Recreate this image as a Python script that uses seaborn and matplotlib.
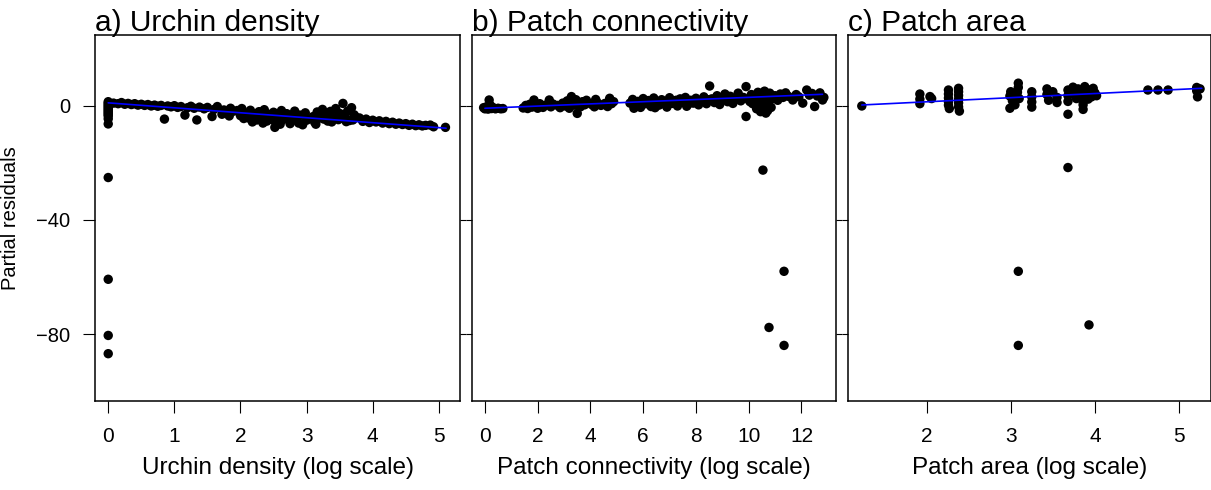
import matplotlib
matplotlib.use("Agg")
import matplotlib.pyplot as plt
import seaborn as sns
import pandas as pd

# ---------------- data ----------------
# a) Urchin density (log scale) vs partial residuals
urchin_x = [0, 0, 0, 0, 0, 0, 0, 0, 0, 0, 0, 0, 0, 0, 0, 0, 0,
            0.08, 0.15, 0.2, 0.25, 0.3, 0.35, 0.4, 0.45, 0.5, 0.55, 0.6, 0.65, 0.7, 0.75, 0.8, 0.85,
            0.9, 0.95, 1.0, 1.05, 1.1, 1.16, 1.2, 1.25, 1.3, 1.34, 1.38, 1.45, 1.5, 1.57, 1.6, 1.65,
            1.72, 1.75, 1.83, 1.85, 1.9,
            1.95, 2.0, 2.02, 2.08, 2.12, 2.15, 2.2, 2.25, 2.28, 2.32, 2.36, 2.4, 2.42, 2.46, 2.5, 2.52,
            2.55, 2.58, 2.62, 2.65, 2.7, 2.75, 2.78, 2.82, 2.86, 2.9, 2.94, 2.98, 3.02, 3.1, 3.12, 3.16,
            3.2, 3.24, 3.28, 3.32, 3.36, 3.4, 3.44, 3.48, 3.5, 3.55, 3.58, 3.62, 3.65, 3.68, 3.72, 3.74,
            2.05, 2.18, 2.34, 2.48, 2.6, 2.72, 2.88, 3.0, 3.14, 3.26, 3.38, 3.52, 3.6, 3.7,
            3.8, 3.85, 3.9, 3.95, 4.0, 4.05, 4.1, 4.15, 4.2, 4.25, 4.3, 4.35, 4.4, 4.45, 4.5, 4.55,
            4.6, 4.65, 4.7, 4.75, 4.8, 4.87, 4.92, 5.1]
urchin_y = [1.5, 1.0, 0.5, 0.0, -0.5, -1.0, -1.5, -2.0, -2.5, -3.0, -3.5, -4.5, -6.3, -25.1, -60.8, -80.5, -86.9,
            1.0, 0.8, 1.2, 0.6, 0.9, 0.5, 0.8, 0.3, 0.6, 0.2, 0.5, 0.0, 0.3, -0.1, 0.2, -4.6,
            0.0, -0.3, 0.1, -0.5, -0.2, -3.2, -0.6, -0.1, -0.8, -4.9, -0.4, -1.0, -0.5, -3.7, -1.2, -0.2,
            -2.9, -1.4, -3.5, -0.8, -1.8,
            -1.6, -3.4, -0.9, -2.6, -4.2, -1.5, -3.1, -4.9, -2.0, -3.8, -1.3, -5.3, -2.9, -4.1, -2.2, -7.5,
            -5.8, -3.4, -1.6, -4.7, -2.7, -6.2, -3.9, -1.8, -5.2, -3.2, -6.6, -2.4, -4.6, -3.7, -5.6, -2.1,
            -4.2, -1.2, -3.3, -5.3, -1.9, -4.0, -0.9, -4.8, -2.6, 0.9, -3.6, -1.8, -5.1, -0.6, -3.1, -3.9,
            -4.4, -5.6, -6.0, -4.8, -6.4, -4.4, -6.0, -5.0, -6.4, -4.6, -5.6, -4.2, -5.5, -4.9,
            -4.2, -5.4, -4.6, -5.8, -5.0, -5.6, -5.2, -6.0, -5.4, -6.2, -5.7, -6.4, -6.0, -6.5, -6.2, -6.8,
            -6.4, -6.9, -6.6, -7.0, -6.8, -6.7, -7.3, -7.5]
urchin_fit_x = [0.0, 5.11]
urchin_fit_y = [1.1, -7.8]

# b) Patch connectivity (log scale)
conn_x = [-0.05, 0.0, 0.05, 0.12, 0.16, 0.2, 0.25, 0.3, 0.4, 0.5, 0.6, 0.68,
          1.45, 1.55, 1.62, 1.7, 1.78, 1.86, 1.92, 2.0, 2.08, 2.2, 2.3, 2.44, 2.5, 2.58,
          2.75, 2.85, 2.95, 3.05, 3.12, 3.2, 3.28, 3.32, 3.4, 3.45, 3.5, 3.55, 3.62, 3.7, 3.78, 3.85,
          4.05, 4.15, 4.2, 4.28, 4.4, 4.55, 4.65, 4.73, 4.8, 4.88,
          5.5, 5.6, 5.7, 5.8, 5.9, 6.0, 6.1, 6.2, 6.3, 6.4, 6.5, 6.6, 6.7, 6.8, 6.9, 7.0, 7.1, 7.2,
          7.3, 7.4, 7.5, 7.6, 7.7, 7.8, 7.9, 8.0, 8.1,
          8.2, 8.3, 8.4, 8.52, 8.6, 8.7, 8.8, 8.9, 9.0, 9.1, 9.2, 9.3, 9.4, 9.5, 9.6, 9.7, 9.8, 9.9,
          9.9, 10.0, 10.1, 10.15,
          10.25, 10.3, 10.35, 10.4, 10.45, 10.5, 10.55, 10.6, 10.62, 10.65, 10.7, 10.75, 10.8, 10.85, 10.9,
          11.0, 11.1, 11.2, 11.3, 11.4, 11.5, 11.67, 11.8, 11.9, 12.05, 12.2, 12.3, 12.4, 12.5, 12.6,
          12.7, 12.8, 12.85,
          5.65, 6.05, 6.45, 6.85, 7.25, 7.65, 8.05, 8.45, 8.85, 9.25, 9.65, 10.05, 10.42, 10.72,
          10.54, 11.34, 10.77, 11.34]
conn_y = [-0.6, -1.0, -0.3, -1.1, 2.1, 0.3, -0.9, -0.5, -1.0, -0.8, -1.0, -0.9,
          -0.7, 0.2, -0.9, 0.6, -0.4, 2.1, 0.0, -0.8, 0.8, -0.5, 0.3, 2.1, -0.3, 0.7,
          0.2, -0.6, 1.0, 0.0, 1.8, -0.8, 3.3, 1.2, 0.3, 2.2, -2.6, 1.0, -0.3, 1.5, 0.4, 2.0,
          0.5, -0.3, 2.3, 1.0, 0.2, 0.9, -0.2, 2.7, 0.8, 1.5,
          1.0, 2.3, 0.2, 1.6, -0.5, 2.6, 0.8, 1.9, -0.2, 2.8, 1.2, 0.3, 2.2, 1.5, -0.4, 2.9, 0.9, 1.8,
          0.0, 2.5, 1.3, 3.0, 0.6, 2.0, 1.0, 2.7, 0.4,
          1.8, 3.2, 0.8, 7.0, 2.5, 1.2, 3.6, 0.5, 2.8, 4.2, 1.5, 3.4, 0.9, 2.4, 4.5, 1.8, 3.0, 6.8,
          -3.7, 2.2, 4.0, 0.8,
          3.0, -1.0, 4.8, 1.6, -2.0, 3.6, 0.5, 5.2, 2.2, -2.5, 3.8, 1.0, 4.5, -0.5, 2.6,
          3.6, 2.0, 4.2, 3.0, 4.6, 3.4, 2.1, 4.0, 3.2, 1.0, 5.6, 3.8, 4.4, -0.2, 3.5,
          4.6, 2.1, 3.0,
          -0.8, 1.4, -0.6, 0.4, 2.0, -0.1, 1.6, 2.2, 1.9, 2.7, 3.2, 1.5, 0.2, -1.6,
          -22.5, -58.0, -77.7, -84.0]
conn_fit_x = [0.0, 12.8]
conn_fit_y = [-0.8, 4.1]

# c) Patch area (log scale)
area_x = [1.23,
          1.92, 1.92, 1.92, 2.04, 2.06,
          2.26, 2.26, 2.26, 2.26, 2.26, 2.27,
          2.38, 2.38, 2.38, 2.38, 2.38, 2.38, 2.39,
          2.99, 2.99, 3.0, 3.02, 3.05, 3.08, 3.09, 3.09, 3.1, 3.06,
          3.25, 3.25, 3.25, 3.25,
          3.43, 3.43, 3.45, 3.5, 3.55, 3.55,
          3.68, 3.68, 3.68, 3.68, 3.68,
          3.74, 3.76, 3.78, 3.8, 3.82, 3.84, 3.86, 3.86, 3.88, 3.9, 3.92, 3.94, 3.96, 3.98, 4.0,
          4.02, 3.86,
          4.63, 4.75, 4.87,
          5.21, 5.21, 5.22, 5.25,
          3.09, 3.93, 3.09]
area_y = [0.0,
          4.2, 2.4, 0.8, 3.3, 2.6,
          5.6, 4.2, 2.8, 1.5, 0.3, -0.9,
          6.2, 5.0, 3.7, 2.4, 1.1, -0.3, -1.8,
          3.5, -0.8, 5.0, 1.8, 0.4, 4.8, 8.0, 6.5, 2.6, 3.4,
          5.0, 3.2, 1.4, -0.4,
          6.0, 4.0, 2.0, 5.0, 3.0, 1.2,
          5.6, 3.6, 1.6, -2.9, -21.6,
          6.6, 4.5, 2.6, 6.0, 5.0, 3.4, -1.2, 1.5, 6.8, 4.2, 2.4, 5.6, 3.2, 6.2, 4.6,
          3.6, 0.4,
          5.6, 5.6, 5.6,
          6.5, 5.3, 3.2, 6.0,
          -58.0, -76.8, -84.0]
area_fit_x = [1.23, 5.27]
area_fit_y = [0.35, 6.2]

titles = ["a) Urchin density", "b) Patch connectivity", "c) Patch area"]
xlabels = ["Urchin density (log scale)", "Patch connectivity (log scale)", "Patch area (log scale)"]
xticks = [[0, 1, 2, 3, 4, 5], [0, 2, 4, 6, 8, 10, 12], [2, 3, 4, 5]]
xlims = [(-0.2, 5.32), (-0.49, 13.31), (1.066, 5.38)]
yticks = [0, -40, -80]
ylim = (-103.5, 24.9)

# ---------------- plot ----------------
sns.set_style("white")
plt.rcParams['font.family'] = ['Liberation Sans', 'DejaVu Sans']
plt.rcParams['axes.unicode_minus'] = True
plt.rcParams['text.color'] = 'black'
plt.rcParams['axes.labelcolor'] = 'black'
plt.rcParams['xtick.color'] = 'black'
plt.rcParams['ytick.color'] = 'black'

fig = plt.figure(figsize=(12.11, 4.90), dpi=100)
W, H = 1211.0, 490.0
top_px, bot_px = 35.0, 401.0
panels_px = [(95.0, 460.0), (472.0, 836.0), (848.0, 1211.0)]

datasets = [
    (urchin_x, urchin_y, urchin_fit_x, urchin_fit_y),
    (conn_x, conn_y, conn_fit_x, conn_fit_y),
    (area_x, area_y, area_fit_x, area_fit_y),
]

for i, ((l, r), (px, py, fx, fy)) in enumerate(zip(panels_px, datasets)):
    ax = fig.add_axes([l / W, 1 - bot_px / H, (r - l) / W, (bot_px - top_px) / H])
    df = pd.DataFrame({"x": px, "y": py})
    sns.scatterplot(data=df, x="x", y="y", ax=ax, color="black", s=46,
                    edgecolor="none", linewidth=0, zorder=2)
    fit = pd.DataFrame({"x": fx, "y": fy})
    sns.lineplot(data=fit, x="x", y="y", ax=ax, color="#0000ff", linewidth=1.2,
                 zorder=3, estimator=None, sort=False)
    ax.set_xlim(*xlims[i])
    ax.set_ylim(*ylim)
    ax.set_xticks(xticks[i])
    ax.set_xticklabels([str(t) for t in xticks[i]])
    ax.set_yticks(yticks)
    for sp in ax.spines.values():
        sp.set_color("black")
        sp.set_linewidth(1.1)
    ax.tick_params(axis="x", direction="out", length=8.6, width=0.8, color="black",
                   labelsize=15, labelcolor="black", pad=10, bottom=True)
    if i == 0:
        ax.tick_params(axis="y", which="major", direction="out", left=True, right=True,
                       length=8.6, width=0.8, labelsize=14.5, labelcolor="black", pad=9,
                       labelleft=True)
        ax.set_yticklabels(["0", "\u221240", "\u221280"])
        for t in ax.yaxis.get_ticklines()[1::2]:
            t.set_markersize(4.3)
        ax.set_ylabel("Partial residuals", fontsize=14.5, color="black")
        ax.yaxis.set_label_coords(-0.205, 0.5)
    else:
        ax.tick_params(axis="y", direction="out", left=True, right=True, length=4.3,
                       width=0.8, labelleft=False)
        ax.set_ylabel("")
    ax.set_xlabel(xlabels[i], fontsize=17.5, labelpad=8, color="black")
    ax.set_title(titles[i], loc="left", fontsize=21.5, pad=3, color="black")

fig.savefig("out.png", dpi=100)
